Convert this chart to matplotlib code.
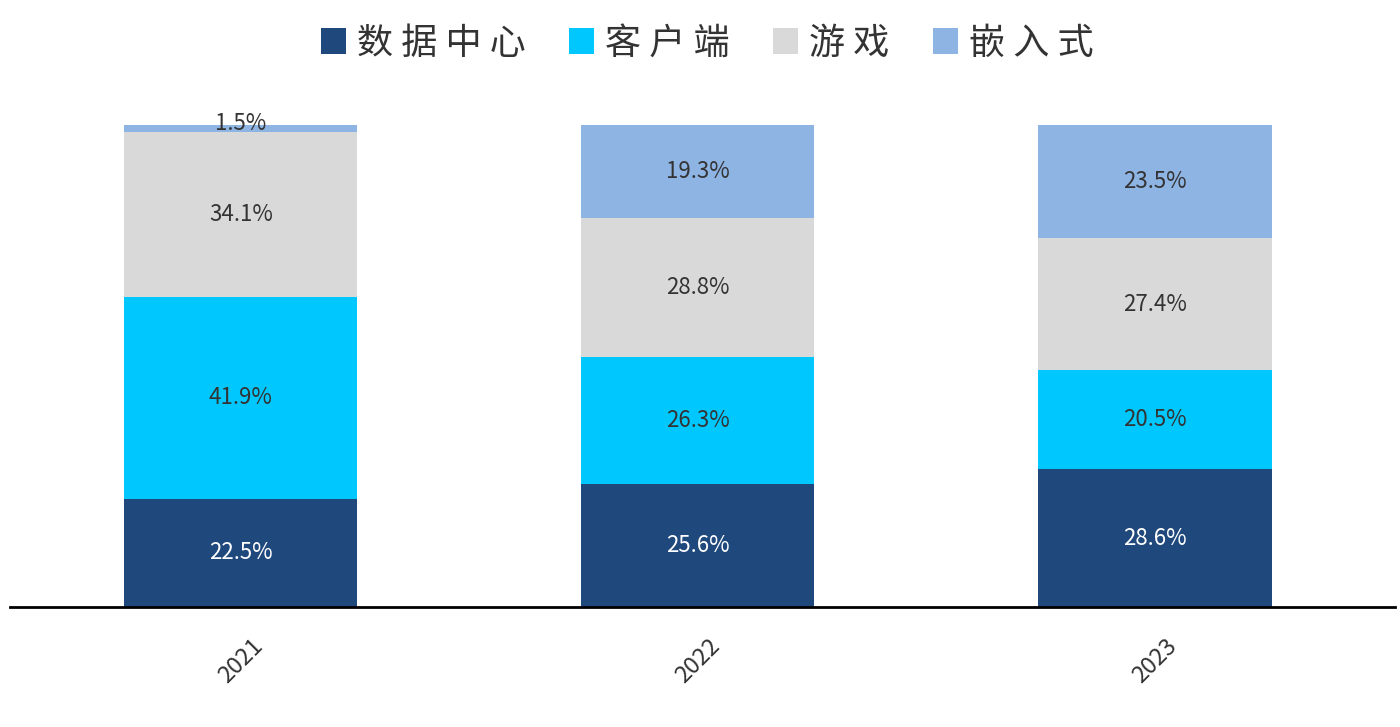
import matplotlib
matplotlib.use("Agg")
import matplotlib.pyplot as plt
import numpy as np

plt.rcParams['font.family'] = ['Noto Sans CJK SC', 'DejaVu Sans']

years = ['2021', '2022', '2023']
series = ['数据中心', '客户端', '游戏', '嵌入式']
data_center = [22.5, 25.6, 28.6]
client = [41.9, 26.3, 20.5]
gaming = [34.1, 28.8, 27.4]
embedded = [1.5, 19.3, 23.5]
colors = ['#1F497D', '#00C8FF', '#D9D9D9', '#8EB4E3']
label_colors = ['white', '#333333', '#333333', '#333333']

fig = plt.figure(figsize=(14, 7.27), dpi=100)
ax = fig.add_axes([10/1400, 120/727, 1385/1400, 482/727])
x = np.arange(len(years))
bottom = np.zeros(len(years))
for name, vals, c, lc in zip(series, [data_center, client, gaming, embedded], colors, label_colors):
    vals = np.array(vals)
    ax.bar(x, vals, 0.51, bottom=bottom, color=c, label=' '.join(name))
    for xi, b, v in zip(x, bottom, vals):
        y = b + v/2 if v > 5 else b + v + 0.3
        ax.text(xi, y, f'{v:.1f}%', ha='center', va='center', fontsize=16, color=lc)
    bottom += vals

ax.set_xlim(-0.505, 2.525)
ax.set_ylim(0, 100)
ax.set_xticks(x)
ax.set_xticklabels(years, rotation=45, fontsize=17, color='#333333')
ax.tick_params(axis='x', length=0, pad=20)
ax.set_yticks([])
for s in ['top', 'right', 'left']:
    ax.spines[s].set_visible(False)
ax.spines['bottom'].set_linewidth(2)
ax.spines['bottom'].set_color('black')

fig.legend(loc='center', bbox_to_anchor=(0.505, 0.94), ncol=4, frameon=False,
           fontsize=26, handlelength=0.7, handleheight=0.7, handletextpad=0.3,
           columnspacing=1.2, labelcolor='#333333')
fig.savefig('out.png', dpi=100)
